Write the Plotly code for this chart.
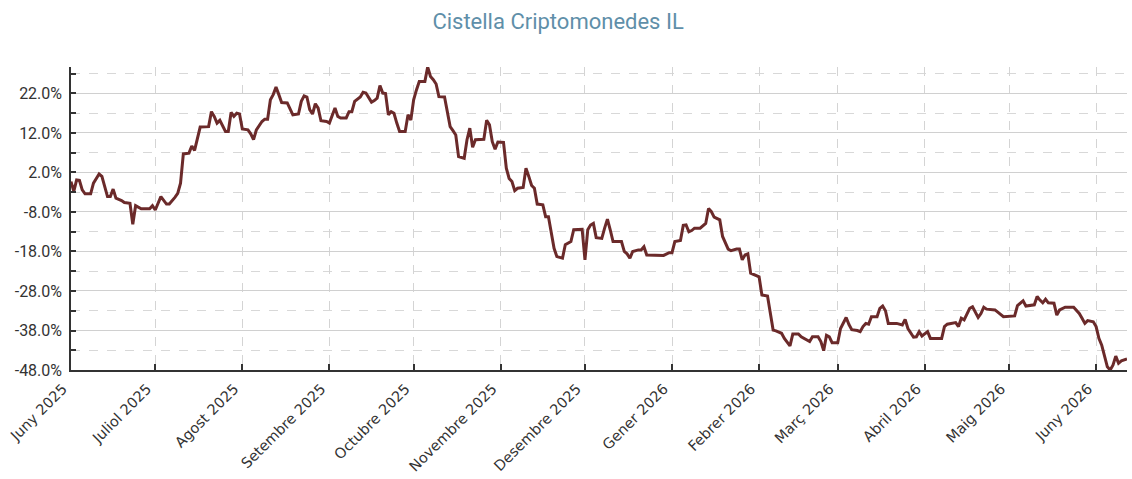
import pandas as pd
import plotly.graph_objects as go

START = "2025-06-01"
END_DAY = 376

# days since START, and the basket's return in %
days = [0, 1, 2, 3, 4, 5, 7, 8, 10, 11, 13, 14, 15, 16, 18, 19, 21, 22, 23, 25, 28, 29, 30, 32, 34, 35, 37, 38, 39,
        40, 42, 43, 44, 45, 46, 49, 50, 51, 52, 53, 55, 56, 57, 58, 59, 60, 61, 63, 64, 65, 66, 68, 69, 70,
        71, 72, 73, 74, 75, 77, 78, 79, 81, 82, 83, 84, 85, 86, 87, 88, 89, 91, 92, 94, 95, 96, 98, 99, 100,
        101, 103, 104, 105, 107, 108, 109, 110, 111, 112, 113, 114, 115, 116, 117, 119, 120, 121, 122, 123,
        124, 126, 127, 128, 129, 130, 131, 133, 134, 135, 136, 137, 138, 140, 141, 142, 143, 144, 147, 148,
        149, 150, 151, 152, 154, 155, 156, 157, 158, 159, 161, 162, 163, 164, 165, 166, 168, 169, 170, 171,
        172, 173, 175, 176, 178, 179, 182, 183, 184, 185, 186, 187, 189, 190, 191, 192, 193, 196, 197, 198,
        199, 200, 202, 203, 204, 205, 211, 213, 214, 215, 217, 218, 219, 220, 221, 222, 224, 226, 227, 228,
        229, 231, 232, 234, 235, 237, 238, 239, 240, 241, 242, 245, 246, 248, 250, 251, 253, 254, 256, 257,
        259, 260, 261, 263, 264, 266, 267, 268, 269, 270, 271, 273, 274, 275, 276, 277, 278, 280, 281, 282,
        283, 284, 285, 287, 288, 289, 290, 291, 294, 296, 297, 298, 300, 301, 302, 303, 305, 306, 310, 311,
        312, 315, 316, 317, 318, 320, 321, 323, 324, 325, 326, 329, 331, 332, 336, 337, 339, 340, 343, 344,
        345, 346, 347, 348, 350, 351, 352, 354, 357, 359, 360, 361, 362, 364, 365, 366, 367, 368, 369, 370,
        371, 372, 373, 374, 376]

returns = [-0.3, -2.8, 0.1, 0.0, -2.4, -3.4, -3.4, -0.7, 1.6, 1.0, -4.1, -4.1, -2.2, -4.5, -5.1, -5.6, -5.8, -11.1,
           -6.4, -7.2, -7.2, -6.4, -7.5, -4.1, -6.0, -6.0, -4.3, -3.3, -0.7,
           6.7, 6.9, 8.7, 7.6, 10.7, 13.5, 13.6, 17.4, 16.2, 14.5, 15.2, 12.4, 12.4, 17.2, 16.2, 17.0, 16.8, 13.0,
           12.8, 11.8, 10.3, 12.8, 14.9, 15.5, 15.5,
           20.4, 21.7, 23.6, 21.7, 19.7, 19.6, 18.0, 16.6, 16.8, 20.0, 21.4, 21.1, 17.9, 16.8, 19.4, 18.3, 15.1,
           14.9, 14.5, 18.3, 16.2, 15.8, 15.8, 17.4, 17.4,
           20.0, 21.1, 22.3, 22.1, 19.8, 20.2, 20.8, 24.0, 22.1, 22.0, 16.6, 17.4, 17.0, 14.5, 12.4, 12.4, 16.6,
           15.3, 20.4, 22.9,
           25.0, 25.0, 28.7, 26.3, 25.5, 24.4, 21.2, 21.1, 17.4, 13.6, 12.6, 11.5, 6.0, 5.6, 10.3, 13.2, 8.4, 10.3,
           10.4, 15.2,
           14.1, 9.8, 7.9, 9.7, 9.6, 3.1, 0.5, -0.3, -2.6, -2.0, -1.8, 3.1, 1.0, -1.3, -2.0, -6.0, -6.2, -9.2,
           -9.2, -13.4,
           -17.2, -19.3, -19.7, -16.3, -15.5, -12.5, -12.4, -20.1, -12.5, -11.3, -10.9, -14.5, -14.7, -12.1, -9.8,
           -12.5, -15.5, -15.5, -18.0, -18.6,
           -19.7, -18.0, -17.6, -17.6, -16.8, -18.9, -19.0, -18.3, -18.3, -15.5, -15.2, -11.4, -11.3, -13.0, -12.7,
           -12.1, -12.1, -10.9, -7.1, -7.9,
           -9.3, -10.0, -14.2, -17.4, -17.8, -17.4, -17.4, -20.1, -18.9, -18.6, -23.5, -24.4, -29.0, -29.3, -37.9,
           -38.1, -38.7, -40.0, -41.9, -38.9,
           -38.9, -39.6, -40.0, -40.8, -39.6, -39.6, -40.8, -43.1, -39.2, -39.6, -41.1, -41.1, -37.5, -36.2, -34.7,
           -36.5, -37.8, -38.0, -38.3, -37.0,
           -36.2, -36.4, -34.5, -34.5, -32.4, -31.8, -33.0, -36.2, -36.2, -36.6, -35.2, -37.5, -39.7, -39.6, -38.3,
           -39.4, -38.3, -40.0, -40.0, -37.0,
           -36.4, -36.0, -37.0, -34.9, -35.3, -32.4, -32.0, -34.7, -33.7, -32.1, -32.6, -32.8, -33.9, -34.5, -34.3,
           -31.7, -30.5, -31.8, -31.5, -29.4,
           -30.3, -31.0, -30.1, -31.0, -31.1, -34.1, -32.8, -32.1, -32.1, -33.7, -34.9, -36.2, -35.5, -35.8, -37.0,
           -40.0, -41.7, -44.2, -47.2, -48.0,
           -46.8, -44.5, -46.3, -45.7, -45.2]

month_labels = ["Juny 2025", "Juliol 2025", "Agost 2025", "Setembre 2025", "Octubre 2025", "Novembre 2025",
                "Desembre 2025", "Gener 2026", "Febrer 2026", "Març 2026", "Abril 2026", "Maig 2026", "Juny 2026"]

y_major = [-48, -38, -28, -18, -8, 2, 12, 22]
y_minor = [-43, -33, -23, -13, -3, 7, 17, 27]
y_labels = [f"{v:.1f}%" for v in y_major]

start = pd.Timestamp(START)
dates = start + pd.to_timedelta(days, unit="D")
month_ticks = pd.date_range(START, periods=len(month_labels), freq="MS")
end = start + pd.Timedelta(days=END_DAY)

fig = go.Figure()
fig.add_trace(go.Scatter(
    x=dates, y=returns, mode="lines",
    line=dict(color="#6b2a2a", width=3),
    showlegend=False,
))

x_font = dict(family="DejaVu Sans", size=14.5, color="#333333")
y_font = dict(family="Roboto", size=16, color="#333333")

fig.update_layout(
    width=1132, height=479,
    paper_bgcolor="white", plot_bgcolor="white",
    margin=dict(l=71, r=5, t=67, b=109),
    title=dict(text="Cistella Criptomonedes IL", x=0.493, xref="container", xanchor="center",
               y=0.956, yref="container", yanchor="middle",
               font=dict(family="Roboto", size=22, color="#5f8fa9")),
    xaxis=dict(
        type="date", range=[start, end],
        tickmode="array", tickvals=month_ticks, ticktext=month_labels,
        tickangle=-45, tickfont=x_font, ticklabelshift=-8, ticklabelstandoff=3,
        showgrid=True, gridcolor="#d4d4d4", griddash="dash", gridwidth=1,
        showline=True, linecolor="#333333", linewidth=1.5,
        ticks="inside", ticklen=6, tickcolor="#333333", tickwidth=1.5,
        zeroline=False,
    ),
    yaxis=dict(
        range=[-48, 28.7],
        tickmode="array", tickvals=y_major, ticktext=y_labels, tickfont=y_font,
        showgrid=True, gridcolor="#d0d0d0", gridwidth=1.2,
        showline=True, linecolor="#333333", linewidth=1.5,
        ticks="inside", ticklen=5, tickcolor="#333333", tickwidth=1.5,
        zeroline=False, ticklabelstandoff=4,
        minor=dict(tickmode="array", tickvals=y_minor, showgrid=True, gridcolor="#d8d8d8", griddash="dash",
                   ticks="inside", ticklen=5, tickcolor="#333333", tickwidth=1.5),
    ),
)

fig.write_html("out.html", config={"displayModeBar": False},
               post_script="document.body.style.margin='0';")
